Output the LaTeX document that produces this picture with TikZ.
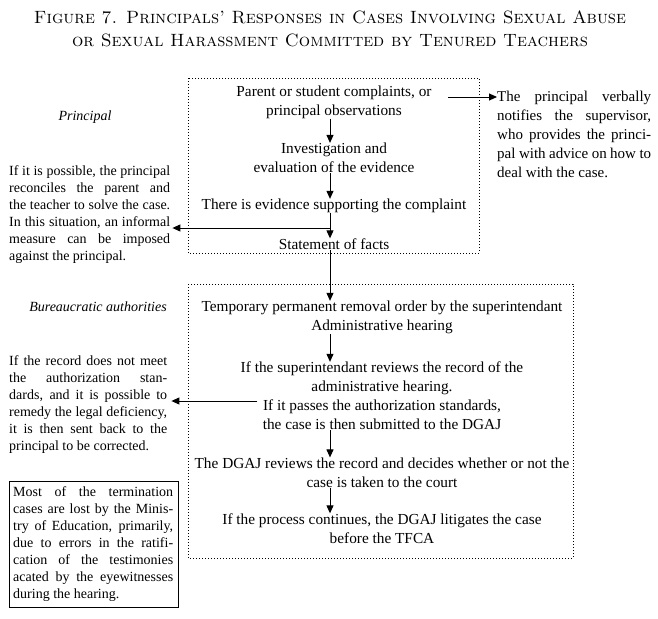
\documentclass[tikz,border=0pt]{standalone}
\usepackage{fontspec}
\setmainfont{Liberation Serif}
\usetikzlibrary{arrows.meta}
\newlength\nw
\newcommand\jl[1]{\makebox[\nw][s]{#1}}
\begin{document}
\begin{tikzpicture}[x=1pt,y=-1pt,
  dotbox/.style={draw, line width=0.7pt, dash pattern=on 0.7pt off 2.3pt},
  arr/.style={line width=1pt, -{Triangle[length=8pt,width=7pt]}},
  boxtext/.style={align=center, inner sep=0pt, font=\fontsize{15.3}{19}\selectfont},
  note/.style={align=left, inner sep=0pt, font=\fontsize{14}{17}\selectfont},
  rnote/.style={align=left, inner sep=0pt, font=\fontsize{15}{19}\selectfont},
  lab/.style={inner sep=0pt, font=\fontsize{14}{17}\selectfont\itshape}]
\useasboundingbox (0,0) rectangle (658,618);
\fill[white] (0,0) rectangle (658,618);

% title
\node[align=center, inner sep=0pt, font=\fontfamily{lmr}\fontsize{17.8}{22.5}\selectfont\scshape] (title) at (330,29)
  {Figure 7. Principals' Responses in Cases Involving Sexual Abuse\\or Sexual Harassment Committed by Tenured Teachers};

% dotted boxes
\draw[dotbox] (188,78) rectangle (479,253);
\draw[dotbox] (188,284) rectangle (573,558);

% arrow column
\coordinate (ax) at (330,0);

% box 1
\node[boxtext] (p1) at (334,102) {Parent or student complaints, or\\principal observations};
\node[boxtext] (p2) at (334,158) {Investigation and\\evaluation of the evidence};
\node[boxtext] (p3) at (334,206) {There is evidence supporting the complaint};
\node[boxtext] (p4) at (334,244) {Statement of facts};

% box 2
\node[boxtext] (q1) at (382,317.5) {Temporary permanent removal order by the superintendant\\Administrative hearing};
\node[boxtext] (q2) at (382,396) {If the superintendant reviews the record of the\\administrative hearing.\\If it passes the authorization standards,\\the case is then submitted to the DGAJ};
\node[boxtext] (q3) at (382,472.5) {The DGAJ reviews the record and decides whether or not the\\case is taken to the court};
\node[boxtext] (q4) at (382,528.5) {If the process continues, the DGAJ litigates the case\\before the TFCA};

% labels
\node[lab] (lp) at (85,117) {Principal};
\node[lab, anchor=east] (lb) at (167,307) {Bureaucratic authorities};

% notes
\node[rnote, anchor=west, execute at begin node={\setlength\nw{154pt}}] (nr) at (497,134)
  {\jl{The principal verbally}\\\jl{notifies the supervisor,}\\\jl{who provides the princi-}\\\jl{pal with advice on how to}\\deal with the case.};
\node[note, anchor=west, execute at begin node={\setlength\nw{161pt}}] (n1) at (9,215)
  {\jl{If it is possible, the principal}\\\jl{reconciles the parent and}\\\jl{the teacher to solve the case.}\\\jl{In this situation, an informal}\\\jl{measure can be imposed}\\against the principal.};
\node[note, anchor=west, execute at begin node={\setlength\nw{158pt}}] (n2) at (9,405)
  {\jl{If the record does not meet}\\\jl{the authorization stan-}\\\jl{dards, and it is possible to}\\\jl{remedy the legal deficiency,}\\\jl{it is then sent back to the}\\principal to be corrected.};
\node[note, anchor=west, execute at begin node={\setlength\nw{160pt}}] (n3) at (13,544)
  {\jl{Most of the termination}\\\jl{cases are lost by the Minis-}\\\jl{try of Education, primarily,}\\\jl{due to errors in the ratifi-}\\\jl{cation of the testimonies}\\\jl{acated by the eyewitnesses}\\during the hearing.};
\draw[line width=0.8pt] (9,481) rectangle (178,607);

% arrows
\draw[arr] (p1.south -| ax) -- (p2.north -| ax);
\draw[arr] (p2.south -| ax) -- (p3.north -| ax);
\draw[arr] (p3.south -| ax) -- (p4.north -| ax);
\draw[arr] (p4.south -| ax) -- (q1.north -| ax);
\draw[arr] (q1.south -| ax) -- (q2.north -| ax);
\draw[arr] (q2.south -| ax) -- (q3.north -| ax);
\draw[arr] (q3.south -| ax) -- (q4.north -| ax);

\coordinate (r0) at (448,97);
\draw[arr] (r0) -- (nr.west |- r0);
\coordinate (j1) at (ax |- 0,228);
\draw[arr] (j1) -- ([xshift=2pt]n1.east |- j1);
\coordinate (j2) at (257,401);
\draw[arr] (j2) -- ([xshift=4pt]n2.east |- j2);
\end{tikzpicture}
\end{document}
